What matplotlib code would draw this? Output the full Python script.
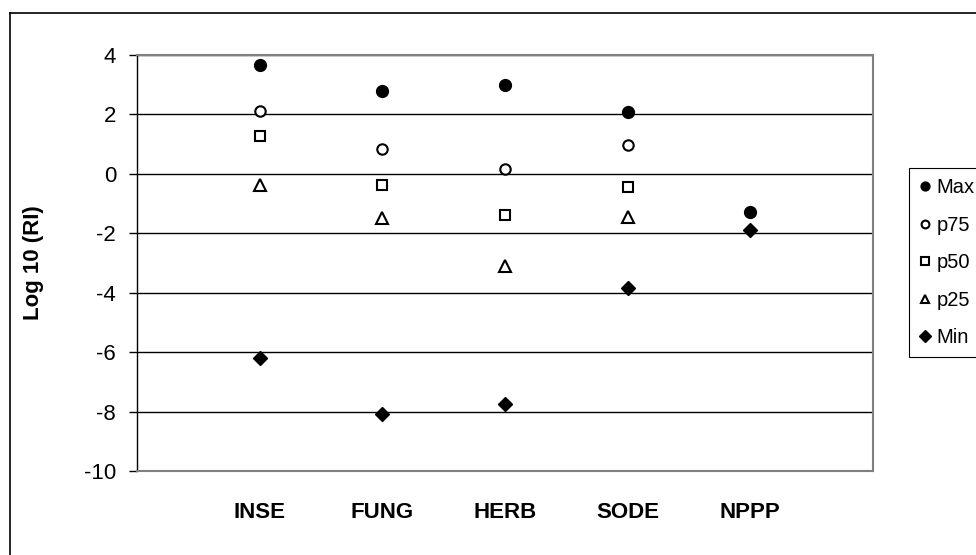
import matplotlib
matplotlib.use("Agg")
from matplotlib import pyplot as plt
from matplotlib.lines import Line2D

plt.rcParams['font.family'] = ['Liberation Sans', 'DejaVu Sans']
plt.rcParams['axes.unicode_minus'] = False

categories = ['INSE', 'FUNG', 'HERB', 'SODE', 'NPPP']
x_pos = [1, 2, 3, 4, 5]

max_vals = [3.67, 2.78, 3.0, 2.07, -1.29]
p75_vals = [2.13, 0.84, 0.17, 0.98, None]
p50_vals = [1.26, -0.37, -1.37, -0.45, None]
p25_vals = [-0.36, -1.49, -3.11, -1.44, None]
min_vals = [-6.2, -8.08, -7.74, -3.85, -1.88]

fig = plt.figure(figsize=(9.76, 5.55), dpi=100)
ax = fig.add_axes([137 / 976, 1 - 471 / 555, 736 / 976, 416 / 555])


def pts(vals):
    xs = [x for x, v in zip(x_pos, vals) if v is not None]
    ys = [v for v in vals if v is not None]
    return xs, ys


xs, ys = pts(max_vals)
ax.plot(xs, ys, 'o', ms=8.5, mfc='black', mec='black', label='Max', zorder=3)
xs, ys = pts(p75_vals)
ax.plot(xs, ys, 'o', ms=7.5, mfc='white', mec='black', mew=1.5, label='p75', zorder=3)
xs, ys = pts(p50_vals)
ax.plot(xs, ys, 's', ms=7, mfc='white', mec='black', mew=1.5, label='p50', zorder=3)
xs, ys = pts(p25_vals)
ax.plot(xs, ys, '^', ms=8.5, mfc='white', mec='black', mew=1.5, label='p25', zorder=3)
xs, ys = pts(min_vals)
ax.plot(xs, ys, 'D', ms=7.5, mfc='black', mec='black', label='Min', zorder=3)

ax.set_xlim(0, 6)
ax.set_ylim(-10, 4)
ax.set_yticks(range(-10, 5, 2))
ax.yaxis.grid(True, color='black', lw=1)
ax.set_axisbelow(True)
ax.tick_params(axis='y', direction='out', length=6, width=1, labelsize=16, pad=9)
ax.set_xticks(x_pos)
ax.set_xticklabels(categories, fontweight='bold', fontsize=16)
ax.tick_params(axis='x', length=0, pad=22)

for side in ['top', 'right', 'bottom']:
    ax.spines[side].set_color('#808080')
    ax.spines[side].set_linewidth(1.5)
ax.spines['left'].set_color('black')
ax.spines['left'].set_linewidth(1)

ax.set_ylabel('Log 10 (RI)', fontweight='bold', fontsize=16)
ax.yaxis.set_label_coords(-0.127, 0.5)

leg = fig.legend(loc='upper left', bbox_to_anchor=(909 / 976, 1 - 168 / 555),
                 fontsize=14.5, markerscale=0.75, labelspacing=0.92,
                 handlelength=0.6, handletextpad=0.25, borderpad=0.5,
                 borderaxespad=0, fancybox=False, framealpha=1, edgecolor='black')
leg.get_frame().set_linewidth(0.8)

# outer chart border (cropped on right and bottom)
fig.add_artist(Line2D([10 / 976, 10 / 976], [0, 1 - 13 / 555], color='black', lw=1.2,
                      transform=fig.transFigure))
fig.add_artist(Line2D([10 / 976, 1], [1 - 13 / 555, 1 - 13 / 555], color='black', lw=1.2,
                      transform=fig.transFigure))

fig.savefig('out.png', dpi=100)
